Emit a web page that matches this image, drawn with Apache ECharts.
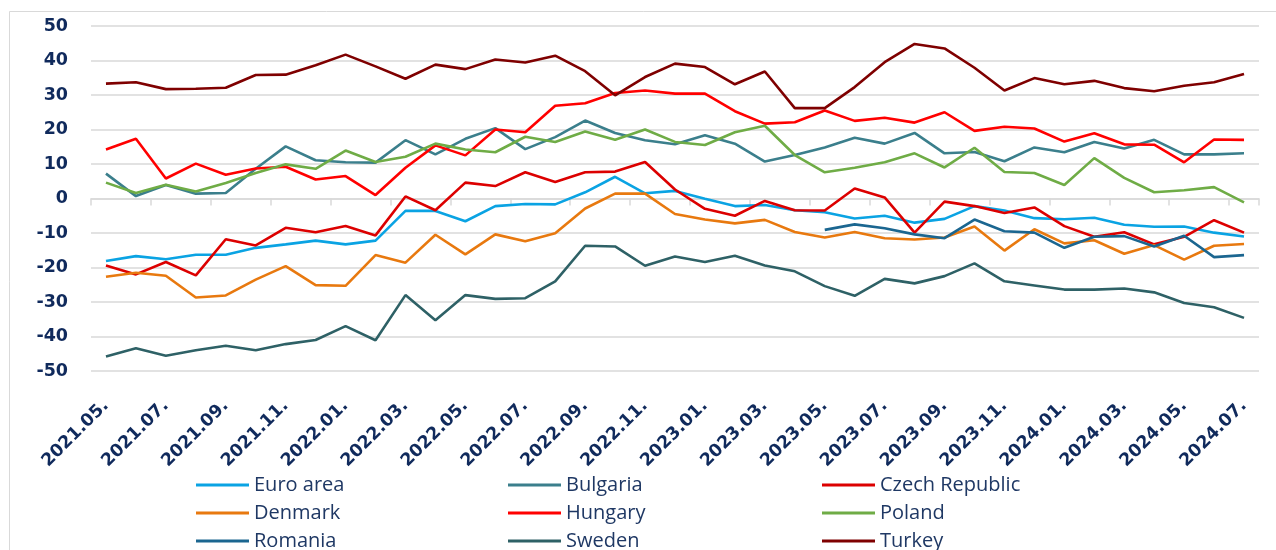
<!DOCTYPE html>
<html>
<head>
<meta charset="utf-8">
<script src="https://cdn.jsdelivr.net/npm/echarts@6/dist/echarts.min.js"></script>
<style>
  html, body { margin: 0; padding: 0; background: #fff; }
  #chart { width: 1276px; height: 550px; }
</style>
</head>
<body>
<div id="chart"></div>
<script>
const months = [
  '2021.05.', '2021.06.', '2021.07.', '2021.08.', '2021.09.', '2021.10.', '2021.11.', '2021.12.',
  '2022.01.', '2022.02.', '2022.03.', '2022.04.', '2022.05.', '2022.06.', '2022.07.', '2022.08.',
  '2022.09.', '2022.10.', '2022.11.', '2022.12.', '2023.01.', '2023.02.', '2023.03.', '2023.04.',
  '2023.05.', '2023.06.', '2023.07.', '2023.08.', '2023.09.', '2023.10.', '2023.11.', '2023.12.',
  '2024.01.', '2024.02.', '2024.03.', '2024.04.', '2024.05.', '2024.06.', '2024.07.'
]

const euroArea = [-18.1, -16.7, -17.6, -16.3, -16.3, -14.3, -13.3, -12.2, -13.3, -12.2, -3.6, -3.6,
  -6.6, -2.2, -1.6, -1.7, 1.8, 6.3, 1.5, 2.2, -0.1, -2.2, -1.9, -3.4, -4.0,
  -5.8, -5.0, -7.0, -5.9, -2.2, -3.5, -5.7, -6.0, -5.6, -7.6, -8.2, -8.1, -9.9, -11.0]
const bulgaria = [7.2, 0.7, 3.9, 1.4, 1.6, 8.6, 15.1, 11.1, 10.5, 10.4, 16.9, 12.8,
  17.3, 20.4, 14.3, 17.8, 22.6, 19.0, 16.9, 15.7, 18.3, 15.9, 10.7, 12.6, 14.8,
  17.6, 15.9, 19.0, 13.1, 13.5, 10.8, 14.8, 13.4, 16.4, 14.5, 17.0, 12.8, 12.8, 13.1]
const czechRepublic = [-19.4, -22.0, -18.4, -22.3, -11.8, -13.6, -8.5, -9.8, -8.0, -10.7, 0.6, -3.4,
  4.6, 3.6, 7.6, 4.8, 7.6, 7.8, 10.6, 2.6, -3.0, -5.0, -0.7, -3.4, -3.5,
  2.9, 0.3, -9.9, -0.9, -2.2, -4.2, -2.6, -8.0, -11.1, -9.8, -13.3, -11.1, -6.3, -9.9]
const denmark = [-22.7, -21.5, -22.4, -28.7, -28.1, -23.5, -19.6, -25.1, -25.3, -16.4, -18.6, -10.5,
  -16.2, -10.4, -12.4, -10.1, -2.9, 1.4, 1.4, -4.5, -6.1, -7.2, -6.2, -9.7, -11.3,
  -9.7, -11.5, -11.9, -11.3, -8.1, -15.1, -8.9, -13.0, -12.1, -16.0, -13.5, -17.7, -13.7, -13.2]
const hungary = [14.2, 17.3, 5.8, 10.1, 6.9, 8.7, 9.2, 5.5, 6.5, 1.0, 8.9, 15.4,
  12.5, 20.0, 19.2, 26.9, 27.6, 30.6, 31.3, 30.4, 30.4, 25.3, 21.7, 22.1, 25.5,
  22.5, 23.4, 22.0, 25.0, 19.6, 20.8, 20.3, 16.5, 18.9, 15.7, 15.6, 10.5, 17.1, 17.0]
const poland = [4.6, 1.6, 4.0, 2.0, 4.5, 7.4, 9.9, 8.6, 13.9, 10.6, 12.1, 15.9,
  14.2, 13.4, 17.9, 16.4, 19.4, 17.0, 20.0, 16.4, 15.5, 19.2, 21.1, 12.6, 7.6,
  8.9, 10.5, 13.1, 9.0, 14.7, 7.7, 7.4, 3.9, 11.7, 6.0, 1.8, 2.4, 3.3, -1.1]
const romania = [null, null, null, null, null, null, null, null, null, null, null, null,
  null, null, null, null, null, null, null, null, null, null, null, null, -9.1,
  -7.5, -8.6, -10.4, -11.5, -6.1, -9.5, -9.9, -14.3, -11.1, -10.9, -13.9, -10.8, -17.0, -16.4]
const sweden = [-45.8, -43.4, -45.6, -44.0, -42.7, -44.0, -42.2, -41.0, -37.0, -41.1, -28.0, -35.3,
  -28.0, -29.1, -28.9, -24.0, -13.7, -13.9, -19.5, -16.8, -18.4, -16.6, -19.4, -21.1, -25.4,
  -28.2, -23.3, -24.6, -22.5, -18.8, -24.0, -25.2, -26.4, -26.4, -26.1, -27.2, -30.3, -31.5, -34.6]
const turkey = [33.3, 33.7, 31.7, 31.8, 32.1, 35.8, 35.9, 38.6, 41.7, 38.3, 34.7, 38.8,
  37.5, 40.3, 39.4, 41.4, 36.9, 29.9, 35.2, 39.1, 38.1, 33.1, 36.8, 26.2, 26.2,
  32.3, 39.5, 44.8, 43.5, 37.9, 31.3, 34.9, 33.1, 34.1, 32.0, 31.1, 32.7, 33.7, 36.1]

const seriesList = [
  { name: 'Euro area', data: euroArea, color: '#0aa3e3' },
  { name: 'Bulgaria', data: bulgaria, color: '#3b7f8c' },
  { name: 'Czech Republic', data: czechRepublic, color: '#dc0000' },
  { name: 'Denmark', data: denmark, color: '#e8790f' },
  { name: 'Hungary', data: hungary, color: '#ff0000' },
  { name: 'Poland', data: poland, color: '#6fac46' },
  { name: 'Romania', data: romania, color: '#1b6690' },
  { name: 'Sweden', data: sweden, color: '#2e6166' },
  { name: 'Turkey', data: turkey, color: '#7f0000' }
]

const navy = '#102a5c'
const gridGrey = '#d9d9d9'

const legendText = {
  color: '#1f3864',
  fontFamily: 'Open Sans',
  fontSize: 20,
  lineHeight: 28
}
// one vertical legend per column, so the three columns line up
function makeLegend(names, left) {
  return {
    orient: 'vertical',
    left: left,
    top: 471,
    height: 120,
    padding: 0,
    itemGap: 0,
    itemWidth: 53,
    itemHeight: 3,
    icon: 'rect',
    selectedMode: false,
    textStyle: legendText,
    data: names
  }
}

const chart = echarts.init(document.getElementById('chart'))
const option = {
  animation: false,
  backgroundColor: '#fff',
  graphic: [{
    type: 'rect',
    shape: { x: 9.5, y: 11.5, width: 1300, height: 600 },
    style: { fill: 'none', stroke: gridGrey, lineWidth: 1 }
  }],
  grid: { left: 91, right: 17, top: 26, bottom: 179 },
  legend: [
    makeLegend(['Euro area', 'Denmark', 'Romania'], 196),
    makeLegend(['Bulgaria', 'Hungary', 'Sweden'], 508),
    makeLegend(['Czech Republic', 'Poland', 'Turkey'], 822)
  ],
  xAxis: [
    {
      // zero line with its ticks
      type: 'category',
      position: 'top',
      data: months,
      boundaryGap: true,
      axisLine: { show: true, onZero: true, lineStyle: { color: gridGrey, width: 1.5 } },
      axisTick: { show: true, inside: true, interval: 1, length: 7, lineStyle: { color: gridGrey, width: 1.5 } },
      axisLabel: { show: false },
      splitLine: { show: false }
    },
    {
      // labels at the bottom
      type: 'category',
      position: 'bottom',
      data: months,
      boundaryGap: true,
      axisLine: { show: false, onZero: false },
      axisTick: { show: false },
      axisLabel: {
        interval: 1,
        rotate: 45,
        margin: 32,
        color: navy,
        fontFamily: 'DejaVu Sans',
        fontWeight: 'bold',
        fontSize: 17.5
      },
      splitLine: { show: false }
    }
  ],
  yAxis: {
    type: 'value',
    min: -50,
    max: 50,
    interval: 10,
    axisLine: { show: false },
    axisTick: { show: false },
    axisLabel: {
      margin: 23,
      color: navy,
      fontFamily: 'DejaVu Sans',
      fontWeight: 'bold',
      fontSize: 17.5
    },
    splitLine: { lineStyle: { color: gridGrey, width: 1.5 } }
  },
  series: seriesList.map(s => ({
    name: s.name,
    type: 'line',
    xAxisIndex: 0,
    data: s.data,
    symbol: 'none',
    connectNulls: false,
    color: s.color,
    lineStyle: { color: s.color, width: 2.6 }
  }))
}
option && chart.setOption(option)
</script>
</body>
</html>
